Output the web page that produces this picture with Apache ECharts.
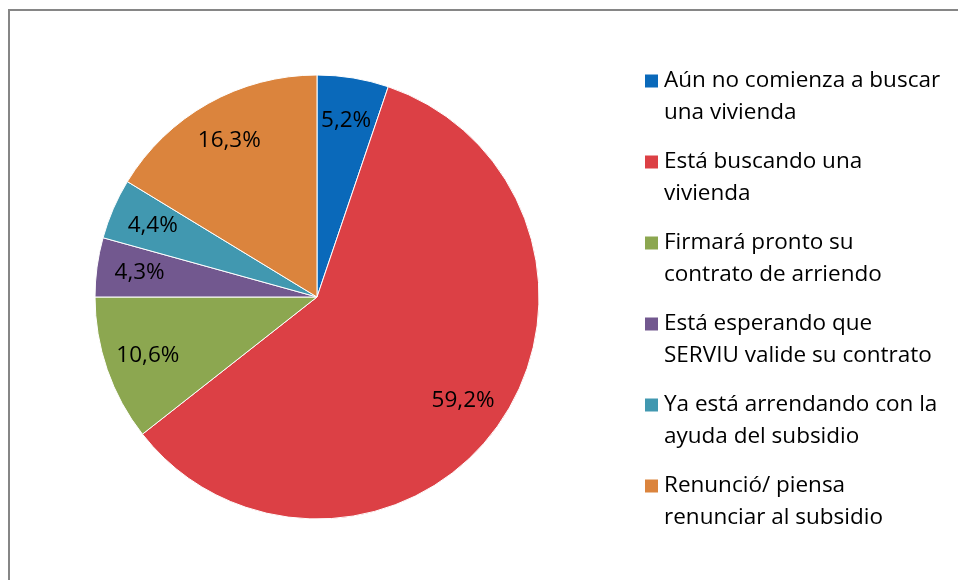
<!DOCTYPE html>
<html>
<head>
<meta charset="utf-8">
<script src="https://cdn.jsdelivr.net/npm/echarts@6/dist/echarts.min.js"></script>
<style>
  html, body { margin: 0; padding: 0; background: #fff; }
  #chart { width: 958px; height: 580px; }
</style>
</head>
<body>
<div id="chart"></div>
<script>
var categories = [
    'Aún no comienza a buscar\nuna vivienda',
    'Está buscando una\nvivienda',
    'Firmará pronto su\ncontrato de arriendo',
    'Está esperando que\nSERVIU valide su contrato',
    'Ya está arrendando con la\nayuda del subsidio',
    'Renunció/ piensa\nrenunciar al subsidio'
];
var values = [5.2, 59.2, 10.6, 4.3, 4.4, 16.3];
var colors = ['#0A69BA', '#DC4045', '#8CA750', '#72588F', '#4198B0', '#DB843D'];

var FONT = 'Open Sans';

var pieData = categories.map(function (name, i) {
    return { name: name, value: values[i], itemStyle: { color: colors[i] } };
});
var labelData = categories.map(function (name, i) {
    return { name: name, value: values[i] };
});

var myChart = echarts.init(document.getElementById('chart'));
var option = {
    animation: false,
    backgroundColor: '#fff',
    graphic: [{
        type: 'rect',
        shape: { x: 9, y: 10, width: 1200, height: 1200 },
        style: { fill: 'none', stroke: '#868686', lineWidth: 2 },
        silent: true,
        z: -1
    }],
    legend: {
        orient: 'vertical',
        left: 638,
        top: 28,
        itemWidth: 15,
        itemHeight: 15,
        itemGap: -15,
        icon: 'rect',
        selectedMode: false,
        data: categories,
        formatter: function (name) {
            return '\n' + name;
        },
        textStyle: {
            fontFamily: FONT,
            fontSize: 22.5,
            lineHeight: 32,
            color: '#000'
        }
    },
    series: [{
        name: 'main',
        type: 'pie',
        center: [317, 297],
        radius: [0, 222],
        startAngle: 90,
        clockwise: true,
        label: { show: false },
        labelLine: { show: false },
        itemStyle: { borderColor: '#fff', borderWidth: 1 },
        emphasis: { disabled: true },
        data: pieData
    }, {
        name: 'labels',
        type: 'pie',
        center: [317, 297],
        radius: [130, 222],
        startAngle: 90,
        clockwise: true,
        silent: true,
        itemStyle: { color: 'rgba(0,0,0,0)' },
        label: {
            show: true,
            position: 'inside',
            fontFamily: FONT,
            fontSize: 22.5,
            color: '#000',
            formatter: function (p) {
                return p.value.toFixed(1).replace('.', ',') + '%';
            }
        },
        labelLine: { show: false },
        emphasis: { disabled: true },
        data: labelData
    }]
};
myChart.setOption(option);
</script>
</body>
</html>
